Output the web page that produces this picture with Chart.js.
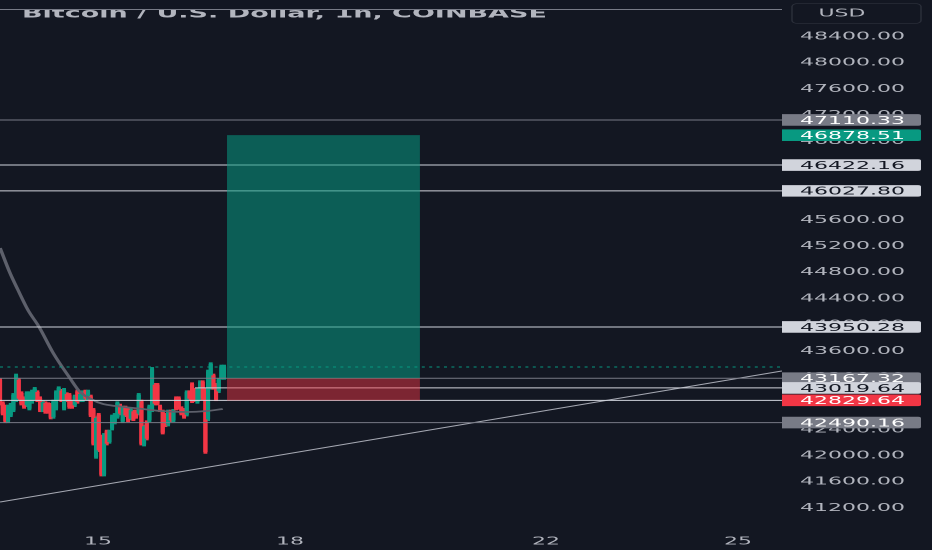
<!DOCTYPE html>
<html>
<head>
<meta charset="utf-8">
<script src="https://cdn.jsdelivr.net/npm/chart.js@4/dist/chart.umd.min.js"></script>
<style>
html, body { margin: 0; padding: 0; background: #131722; overflow: hidden; }
#wrap { width: 932px; height: 550px; overflow: hidden; }
/* the reference is a horizontally stretched, slightly soft screenshot */
#chart { transform: scaleX(2); transform-origin: 0 0; filter: blur(0.25px); }
</style>
</head>
<body>
<div id="wrap"><canvas id="chart" width="466" height="550"></canvas></div>
<script>
// Candles, hourly, first one sits on the left edge of the plot
const firstCandleDay = 13.47;
const candleOpen = [43140,42784,42733,42513,42605,42681,42834,43140,42937,42860,42758,42707,42809,42860,42952,42860,42681,42784,42769,42759,42580,42707,42860,42973,42707,42922,42911,42810,42758,42962,42834,42834,42962,42860,42886,42682,41969,42606,42275,41699,42351,42198,42401,42493,42580,42748,42513,42718,42697,42554,42657,42657,42631,42810,42157,42494,42529,42681,43064,43064,42733,42657,42606,42463,42657,42529,42860,42860,42708,42682,42615,42952,43074,42988,42809,42860,43105,42988,42544,43023,43207,43064,42972,43175,43175];
const candleHigh = [43165,42809,42758,42758,42784,42936,43232,43165,42962,42885,42962,42962,42987,43028,42977,42885,42824,42809,42794,42784,42835,42977,43038,42998,43013,42947,42936,42835,42911,42987,42947,42977,42987,42987,42911,42707,42580,42631,42300,42325,42376,42376,42606,42631,42809,42773,42743,42743,42722,42707,42682,42682,42936,42835,42453,42519,42758,43333,43089,43089,42758,42682,42631,42682,42682,42692,42885,42885,42733,42707,42977,42977,43099,43013,43013,43130,43130,43013,43293,43405,43232,43089,43165,43369,43369];
const candleLow = [42758,42606,42488,42488,42580,42656,42809,42835,42758,42707,42733,42682,42784,42835,42809,42656,42656,42631,42631,42545,42555,42682,42835,42809,42682,42809,42707,42707,42733,42784,42809,42809,42835,42835,42580,42147,41944,42046,41674,41674,42147,42173,42376,42468,42555,42606,42488,42580,42504,42529,42519,42555,42606,42147,42132,42224,42504,42656,42758,42758,42656,42315,42427,42438,42504,42504,42682,42692,42606,42555,42590,42835,42794,42809,42784,42835,42835,42020,42519,42998,42998,42824,42947,43150,43150];
const candleClose = [42783,42631,42513,42733,42759,42911,43207,42860,42783,42732,42937,42937,42962,43003,42834,42681,42799,42656,42656,42570,42810,42952,43013,42834,42988,42834,42732,42732,42886,42809,42922,42952,42860,42962,42605,42172,42555,42071,41699,42300,42172,42351,42581,42606,42784,42631,42718,42605,42529,42682,42544,42580,42911,42172,42428,42249,42733,43308,42783,42783,42681,42340,42452,42657,42529,42667,42707,42717,42631,42580,42952,42860,42819,42834,42988,43105,42860,42045,43268,43380,43023,42849,43140,43344,43344];

// Moving average
const maDays = [13.47,13.625,13.75,13.906,14.08,14.3,14.56,14.72,14.92,15.08,15.27,15.7,15.97,16.39,16.7,16.95];
const maPrices = [45156,44774,44515,44209,43950,43553,43171,42957,42835,42774,42744,42698,42667,42652,42667,42698];

// Drawn levels and tags on the price scale
const grayLevels = [47110.33, 43167.32, 42490.16];
const lightLevels = [46422.16, 46027.80, 43950.28, 42829.64];
const shortLevel = 43019.64;
const shortLevelStart = 16.516;
const topRule = 48797;
const lastPrice = 43339;
const tagPrices = [47110.33, 46878.51, 46422.16, 46027.80, 43950.28, 43167.32, 43019.64, 42829.64, 42490.16];
const tagKinds = ['gray', 'green', 'light', 'light', 'light', 'gray', 'light', 'red', 'gray'];

// Long position box
const boxStartDay = 17.016;
const boxEndDay = 20.03;
const targetPrice = 46878.51;
const entryPrice = 43167.32;
const stopPrice = 42829.64;

// Trend line
const trendDays = [13.469, 25.6875];
const trendPrices = [41278, 43278];

// Axes
const priceTicks = [41200,41600,42000,42400,42800,43200,43600,44000,44400,44800,45200,45600,46000,46400,46800,47200,47600,48000,48400];
const dayTicks = [15, 18, 22, 25];
const xMin = 13.469;
const xMax = 25.6875;
const yMin = 40896;
const yMax = 48942;
const title = 'Bitcoin / U.S. Dollar, 1h, COINBASE';
const currency = 'USD';

const UP = '#089981';
const DOWN = '#f23645';
const GRAY = '#787b86';
const LIGHT = '#d1d4dc';
const TEXT = '#b2b5be';
const FONT = '"DejaVu Sans", sans-serif';
const TAG_STYLES = {
    gray: { bg: GRAY, fg: '#ffffff' },
    green: { bg: UP, fg: '#ffffff' },
    light: { bg: LIGHT, fg: '#131722' },
    red: { bg: DOWN, fg: '#ffffff' }
};

const candleDays = candleOpen.map((_, i) => firstCandleDay + i / 24);
const candleColors = candleOpen.map((o, i) => candleClose[i] >= o ? UP : DOWN);

function hLine(price, color, from) {
    return {
        type: 'line',
        data: [{ x: from === undefined ? xMin : from, y: price }, { x: xMax, y: price }],
        borderColor: color,
        borderWidth: 1,
        pointRadius: 0,
        order: 2
    };
}

function box(top, bottom, color) {
    return {
        type: 'line',
        data: [{ x: boxStartDay, y: top }, { x: boxEndDay, y: top }],
        borderWidth: 0,
        pointRadius: 0,
        backgroundColor: color,
        fill: { value: bottom },
        order: 1
    };
}

// Price tags, currency button and the cut off title
const overlay = {
    id: 'overlay',
    afterDraw(chart) {
        const ctx = chart.ctx;
        const y = chart.scales.y;

        ctx.save();
        ctx.beginPath();
        ctx.rect(0, 10, chart.width, 20);
        ctx.clip();
        ctx.fillStyle = TEXT;
        ctx.font = '600 13.5px ' + FONT;
        ctx.textBaseline = 'alphabetic';
        ctx.fillText(title, 11, 17.5);
        ctx.restore();

        ctx.save();
        ctx.strokeStyle = '#2a2e39';
        ctx.lineWidth = 0.8;
        ctx.beginPath();
        ctx.roundRect(396, 3.5, 64.5, 20, 3);
        ctx.stroke();
        ctx.fillStyle = TEXT;
        ctx.font = '11px ' + FONT;
        ctx.textAlign = 'center';
        ctx.textBaseline = 'middle';
        ctx.fillText(currency, 421, 13.5);
        ctx.restore();

        ctx.save();
        ctx.font = '11px ' + FONT;
        ctx.textBaseline = 'middle';
        tagPrices.forEach((price, i) => {
            const style = TAG_STYLES[tagKinds[i]];
            const py = y.getPixelForValue(price);
            ctx.fillStyle = style.bg;
            ctx.beginPath();
            ctx.roundRect(391, py - 5.8, 69.5, 11.6, [0, 1.5, 1.5, 0]);
            ctx.fill();
            ctx.fillStyle = style.fg;
            ctx.fillText(price.toFixed(2), 400, py + 1);
        });
        ctx.restore();
    }
};

new Chart(document.getElementById('chart'), {
    type: 'bar',
    data: {
        datasets: [
            box(targetPrice, entryPrice, 'rgba(8, 153, 129, 0.55)'),
            box(entryPrice, stopPrice, 'rgba(242, 54, 69, 0.47)'),
            hLine(topRule, GRAY),
            ...grayLevels.map(p => hLine(p, GRAY)),
            ...lightLevels.map(p => hLine(p, LIGHT)),
            hLine(shortLevel, LIGHT, shortLevelStart),
            {
                type: 'line',
                data: [{ x: xMin, y: lastPrice }, { x: xMax, y: lastPrice }],
                borderColor: UP,
                borderWidth: 1,
                borderDash: [1.5, 2.2],
                pointRadius: 0,
                order: 2
            },
            {
                type: 'line',
                data: trendDays.map((d, i) => ({ x: d, y: trendPrices[i] })),
                borderColor: '#a6a9b3',
                borderWidth: 1,
                pointRadius: 0,
                order: 2
            },
            {
                type: 'line',
                data: maDays.map((d, i) => ({ x: d, y: maPrices[i] })),
                borderColor: '#5d606b',
                borderWidth: 1.8,
                cubicInterpolationMode: 'monotone',
                pointRadius: 0,
                order: 3
            },
            {
                data: candleDays.map((d, i) => ({ x: d, y: [candleOpen[i], candleClose[i]] })),
                backgroundColor: candleColors,
                barThickness: 1.4,
                grouped: false,
                order: 4
            },
            {
                data: candleDays.map((d, i) => ({ x: d, y: [candleLow[i], candleHigh[i]] })),
                backgroundColor: candleColors,
                barThickness: 1.3,
                grouped: false,
                order: 5
            }
        ]
    },
    options: {
        responsive: false,
        animation: false,
        devicePixelRatio: 2,
        layout: { padding: 0 },
        plugins: { legend: { display: false }, tooltip: { enabled: false } },
        scales: {
            x: {
                type: 'linear',
                offset: false,
                min: xMin,
                max: xMax,
                grid: { display: false, drawTicks: false },
                border: { display: false },
                afterBuildTicks: axis => { axis.ticks = dayTicks.map(v => ({ value: v })); },
                afterFit: axis => {
                    axis.height = 23;
                    axis.paddingLeft = 0;
                    axis.paddingRight = 0;
                },
                ticks: {
                    color: TEXT,
                    padding: 8,
                    maxRotation: 0,
                    autoSkip: false,
                    font: { family: FONT, size: 11 },
                    callback: v => String(v)
                }
            },
            y: {
                position: 'right',
                min: yMin,
                max: yMax,
                grid: { display: false, drawTicks: false },
                border: { display: false },
                afterBuildTicks: axis => { axis.ticks = priceTicks.map(v => ({ value: v })); },
                afterFit: axis => {
                    axis.width = 75;
                    axis.paddingTop = 0;
                    axis.paddingBottom = 0;
                },
                ticks: {
                    color: TEXT,
                    padding: 9,
                    labelOffset: 1,
                    autoSkip: false,
                    font: { family: FONT, size: 11 },
                    callback: v => v.toFixed(2)
                }
            }
        }
    },
    plugins: [overlay]
});
</script>
</body>
</html>
